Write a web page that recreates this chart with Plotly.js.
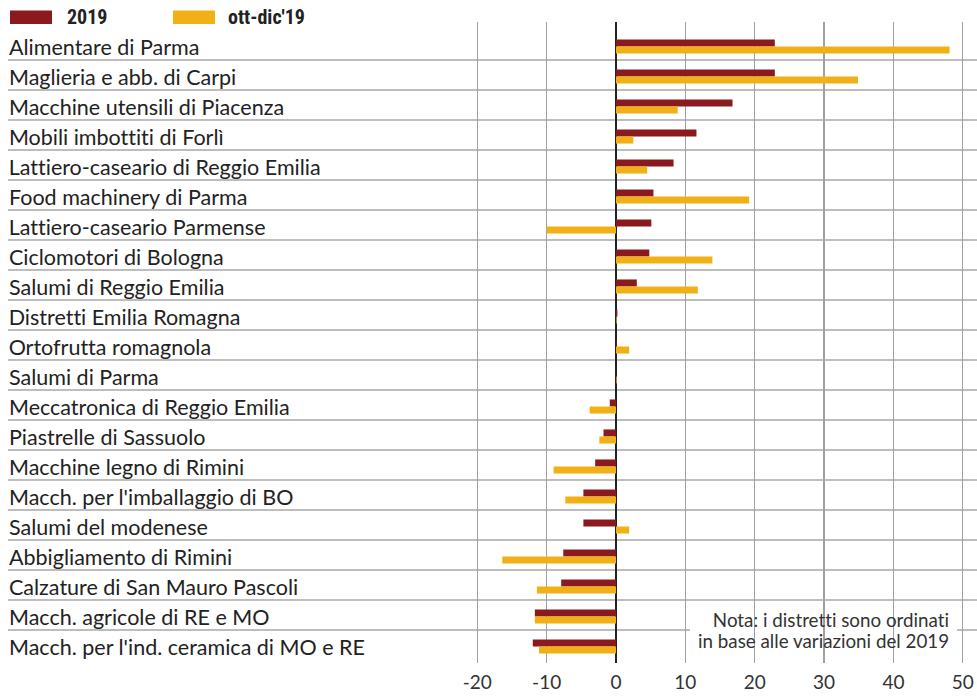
<!DOCTYPE html>
<html>
<head>
<meta charset="utf-8">
<script src="https://cdn.plot.ly/plotly-3.0.1.min.js"></script>
<style>
html,body{margin:0;padding:0;background:#fff;}
#chart{width:977px;height:697px;}
#chart text{font-variant-ligatures:none;font-feature-settings:"liga" 0;}
</style>
</head>
<body>
<div id="chart"></div>
<script>
// ---- data ----
const categories = [
  "Alimentare di Parma",
  "Maglieria e abb. di Carpi",
  "Macchine utensili di Piacenza",
  "Mobili imbottiti di Forlì",
  "Lattiero-caseario di Reggio Emilia",
  "Food machinery di Parma",
  "Lattiero-caseario Parmense",
  "Ciclomotori di Bologna",
  "Salumi di Reggio Emilia",
  "Distretti Emilia Romagna",
  "Ortofrutta romagnola",
  "Salumi di Parma",
  "Meccatronica di Reggio Emilia",
  "Piastrelle di Sassuolo",
  "Macchine legno di Rimini",
  "Macch. per l'imballaggio di BO",
  "Salumi del modenese",
  "Abbigliamento di Rimini",
  "Calzature di San Mauro Pascoli",
  "Macch. agricole di RE e MO",
  "Macch. per l'ind. ceramica di MO e RE"
];
const values2019 = [22.9, 22.9, 16.8, 11.6, 8.3, 5.4, 5.1, 4.8, 3.0, 0.2, 0.1, 0.0, -0.9, -1.8, -3.0, -4.7, -4.7, -7.6, -7.9, -11.7, -12.0];
const valuesOttDic = [48.1, 34.9, 8.9, 2.5, 4.5, 19.2, -10.0, 13.9, 11.8, 0.1, 1.9, 0.1, -3.8, -2.4, -9.0, -7.3, 1.9, -16.4, -11.4, -11.7, -11.1];
const seriesNames = ["2019", "ott-dic'19"];
const tickValues = [-20, -10, 0, 10, 20, 30, 40, 50];
const noteLines = ["Nota: i distretti sono ordinati", "in base alle variazioni del 2019"];

// ---- style ----
const RED = "#8a1a1e";
const YELLOW = "#f0b016";
const W = 977, H = 697, TOP = 22, BOTTOM = 663;
const px = x => x / W;                          // pixel x -> paper
const py = y => (BOTTOM - y) / (BOTTOM - TOP);  // pixel y -> paper
const FONT = "Lato, 'Open Sans', sans-serif";
const BOLD = "'Liberation Sans Narrow', 'Roboto Condensed', 'Arial Narrow', Lato, sans-serif";

const barW = 0.235;
const traces = [
  {type: "bar", orientation: "h", name: seriesNames[0], y: categories, x: values2019,
   marker: {color: RED, line: {width: 0}}, width: barW, offset: -barW, hoverinfo: "x+y"},
  {type: "bar", orientation: "h", name: seriesNames[1], y: categories, x: valuesOttDic,
   marker: {color: YELLOW, line: {width: 0}}, width: barW, offset: 0, hoverinfo: "x+y"}
];

const shapes = [];
// row separators
for (let k = 0; k < categories.length - 1; k++) {
  shapes.push({type: "line", layer: "below", xref: "paper", yref: "y",
    x0: px(8), x1: 1, y0: k + 0.45, y1: k + 0.45,
    line: {color: "#bdbdbd", width: 2}});
}
// white box behind the note (hides the separator under it)
shapes.push({type: "rect", layer: "below", xref: "paper", yref: "paper",
  x0: px(690), x1: px(957), y0: py(654), y1: py(607),
  fillcolor: "#ffffff", line: {width: 0}});
// legend swatches
shapes.push({type: "rect", layer: "above", xref: "paper", yref: "paper",
  x0: px(10), x1: px(52), y0: py(24), y1: py(10.5), fillcolor: RED, line: {width: 0}});
shapes.push({type: "rect", layer: "above", xref: "paper", yref: "paper",
  x0: px(173), x1: px(215), y0: py(24), y1: py(10.5), fillcolor: YELLOW, line: {width: 0}});

const annotations = categories.map(c => ({
  xref: "paper", yref: "y", x: px(7), y: c, xanchor: "left", yanchor: "middle",
  text: c, showarrow: false, font: {family: FONT, size: 21.5, color: "#222"}
}));
annotations.push({xref: "paper", yref: "paper", x: px(65), y: py(17), xanchor: "left", yanchor: "middle",
  text: seriesNames[0], showarrow: false, font: {family: BOLD, size: 20, color: "#222", weight: "bold"}});
annotations.push({xref: "paper", yref: "paper", x: px(226), y: py(17), xanchor: "left", yanchor: "middle",
  text: seriesNames[1], showarrow: false, font: {family: BOLD, size: 20, color: "#222", weight: "bold"}});
noteLines.forEach((t, i) => annotations.push({
  xref: "paper", yref: "paper", x: px(951), y: py(619 + 21 * i), xanchor: "right", yanchor: "middle",
  align: "right", text: t, showarrow: false, font: {family: FONT, size: 18.8, color: "#333"}}));

const pxPerUnit = 6.935, zeroPx = 616;
const layout = {
  width: W, height: H,
  margin: {l: 0, r: 0, t: TOP, b: H - BOTTOM, pad: 0},
  paper_bgcolor: "#fff", plot_bgcolor: "rgba(0,0,0,0)",
  showlegend: false,
  barmode: "overlay",
  font: {family: FONT, color: "#333"},
  xaxis: {
    range: [-zeroPx / pxPerUnit, (W - zeroPx) / pxPerUnit],
    tickmode: "array", tickvals: tickValues, ticktext: tickValues.map(String),
    showgrid: true, gridcolor: "#a0a0a0", gridwidth: 1.3,
    zeroline: true, zerolinecolor: "#222", zerolinewidth: 2.5,
    showline: false, ticks: "", ticklabelstandoff: 6,
    tickfont: {family: FONT, size: 19, color: "#333"},
    fixedrange: true
  },
  yaxis: {
    type: "category", categoryorder: "array", categoryarray: categories,
    range: [(BOTTOM - 46.5) / 30, (TOP - 46.5) / 30],
    showgrid: false, zeroline: false, showline: false, showticklabels: false, ticks: "",
    fixedrange: true
  },
  shapes: shapes,
  annotations: annotations
};

Plotly.newPlot("chart", traces, layout, {displayModeBar: false, staticPlot: true});
</script>
</body>
</html>
